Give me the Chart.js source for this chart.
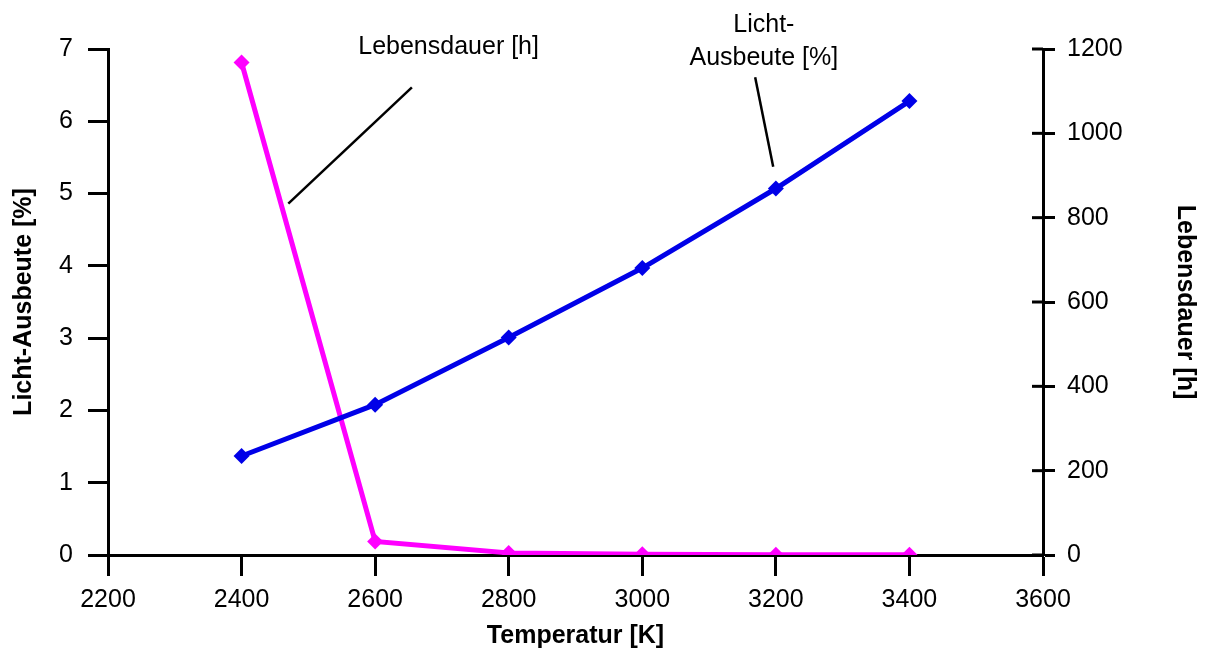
<!DOCTYPE html>
<html>
<head>
<meta charset="utf-8">
<script src="https://cdn.jsdelivr.net/npm/chart.js@4/dist/chart.umd.min.js"></script>
<style>
  html, body { margin: 0; padding: 0; background: #fff; }
  #wrap { width: 1205px; height: 651px; }
</style>
</head>
<body>
<div id="wrap"><canvas id="myChart"></canvas></div>
<script>
// Data
var temperatures = [2400, 2600, 2800, 3000, 3200, 3400];
var lichtAusbeute = [1.37, 2.08, 3.01, 3.97, 5.07, 6.28];
var lebensdauer = [1168, 32, 5, 1.5, 0.8, 0.3];

var xTicks = [2200, 2400, 2600, 2800, 3000, 3200, 3400, 3600];
var leftTicks = [0, 1, 2, 3, 4, 5, 6, 7];
var rightTicks = [0, 200, 400, 600, 800, 1000, 1200];

// Callout notes, in x / left-axis units
var noteLebensText = ['Lebensdauer [h]'];
var noteLebensAt = [2710, 7.02];
var noteLebensLine = [[2470, 4.86], [2655, 6.47]];

var noteLichtText = ['Licht-', 'Ausbeute [%]'];
var noteLichtAt = [3182, 7.33];
var noteLichtLine = [[3169, 6.61], [3196, 5.37]];

var FONT = "'Liberation Sans', Arial, sans-serif";

function toPoints(xs, ys) {
    return xs.map(function(x, i) { return {x: x, y: ys[i]}; });
}

// plain numbers, no thousands separator
function plain(v) { return String(v); }

// Callouts and the inner half of the right axis ticks
var notesPlugin = {
    id: 'notes',
    afterDraw: function(chart) {
        var ctx = chart.ctx;
        var sx = chart.scales.x, sy = chart.scales.y, sr = chart.scales.y1;
        ctx.save();

        // inner tick halves on right axis
        ctx.strokeStyle = '#000';
        ctx.lineWidth = 3;
        rightTicks.forEach(function(v) {
            var py = sr.getPixelForValue(v);
            ctx.beginPath();
            ctx.moveTo(sr.left - 11, py);
            ctx.lineTo(sr.left, py);
            ctx.stroke();
        });

        ctx.lineWidth = 2.5;
        [noteLebensLine, noteLichtLine].forEach(function(l) {
            ctx.beginPath();
            ctx.moveTo(sx.getPixelForValue(l[0][0]), sy.getPixelForValue(l[0][1]));
            ctx.lineTo(sx.getPixelForValue(l[1][0]), sy.getPixelForValue(l[1][1]));
            ctx.stroke();
        });

        ctx.fillStyle = '#000';
        ctx.font = '25px ' + FONT;
        ctx.textAlign = 'center';
        ctx.textBaseline = 'middle';
        [[noteLebensText, noteLebensAt], [noteLichtText, noteLichtAt]].forEach(function(n) {
            var px = sx.getPixelForValue(n[1][0]);
            var py = sy.getPixelForValue(n[1][1]);
            n[0].forEach(function(t, i) {
                ctx.fillText(t, px, py + i * 33);
            });
        });
        ctx.restore();
    }
};

window.addEventListener('load', function() {
    var ctx = document.getElementById('myChart').getContext('2d');
    var myChart = new Chart(ctx, {
        type: 'line',
        data: {
            datasets: [{
                label: 'Licht-Ausbeute [%]',
                data: toPoints(temperatures, lichtAusbeute),
                yAxisID: 'y',
                borderColor: '#0000e8',
                backgroundColor: '#0000e8',
                borderWidth: 5,
                pointStyle: 'rectRot',
                pointRadius: 8,
                pointBorderWidth: 0
            }, {
                label: 'Lebensdauer [h]',
                data: toPoints(temperatures, lebensdauer),
                yAxisID: 'y1',
                borderColor: '#ff00ff',
                backgroundColor: '#ff00ff',
                borderWidth: 5,
                pointStyle: 'rectRot',
                pointRadius: 8,
                pointBorderWidth: 0
            }]
        },
        options: {
            responsive: true,
            maintainAspectRatio: false,
            animation: false,
            layout: { padding: { top: 49, left: 0, right: 0, bottom: 0 } },
            plugins: {
                legend: { display: false },
                tooltip: { enabled: false }
            },
            elements: { line: { tension: 0 } },
            scales: {
                x: {
                    type: 'linear',
                    min: 2200, max: 3600,
                    afterBuildTicks: function(s) { s.ticks = xTicks.map(function(v) { return {value: v}; }); },
                    afterFit: function(s) { s.height = 96; },
                    grid: { drawOnChartArea: false, tickLength: 21, tickWidth: 3, tickColor: '#000' },
                    border: { color: '#000', width: 3 },
                    ticks: { color: '#000', font: { family: FONT, size: 25 }, padding: 9, maxRotation: 0, callback: plain },
                    title: { display: true, text: 'Temperatur [K]', color: '#000',
                        font: { family: FONT, size: 25, weight: 'bold', lineHeight: 1.2 },
                        padding: { top: 0, bottom: 0 } }
                },
                y: {
                    position: 'left',
                    min: 0, max: 7,
                    afterBuildTicks: function(s) { s.ticks = leftTicks.map(function(v) { return {value: v}; }); },
                    afterFit: function(s) { s.width = 108; },
                    grid: { drawOnChartArea: false, tickLength: 20, tickWidth: 3, tickColor: '#000' },
                    border: { color: '#000', width: 3 },
                    ticks: { color: '#000', font: { family: FONT, size: 25 }, padding: 15, callback: plain },
                    title: { display: true, text: 'Licht-Ausbeute [%]', color: '#000',
                        font: { family: FONT, size: 25, weight: 'bold', lineHeight: 1.2 },
                        padding: { top: 9, bottom: 0 } }
                },
                y1: {
                    position: 'right',
                    min: 0, max: 1200,
                    afterBuildTicks: function(s) { s.ticks = rightTicks.map(function(v) { return {value: v}; }); },
                    afterFit: function(s) { s.width = 162; },
                    grid: { drawOnChartArea: false, tickLength: 12, tickWidth: 3, tickColor: '#000' },
                    border: { color: '#000', width: 3 },
                    ticks: { color: '#000', font: { family: FONT, size: 25 }, padding: 12, callback: plain },
                    title: { display: true, text: 'Lebensdauer [h]', color: '#000',
                        font: { family: FONT, size: 25, weight: 'bold', lineHeight: 1.2 },
                        padding: { top: 5, bottom: 0 } }
                }
            }
        },
        plugins: [notesPlugin]
    });
});
</script>
</body>
</html>
